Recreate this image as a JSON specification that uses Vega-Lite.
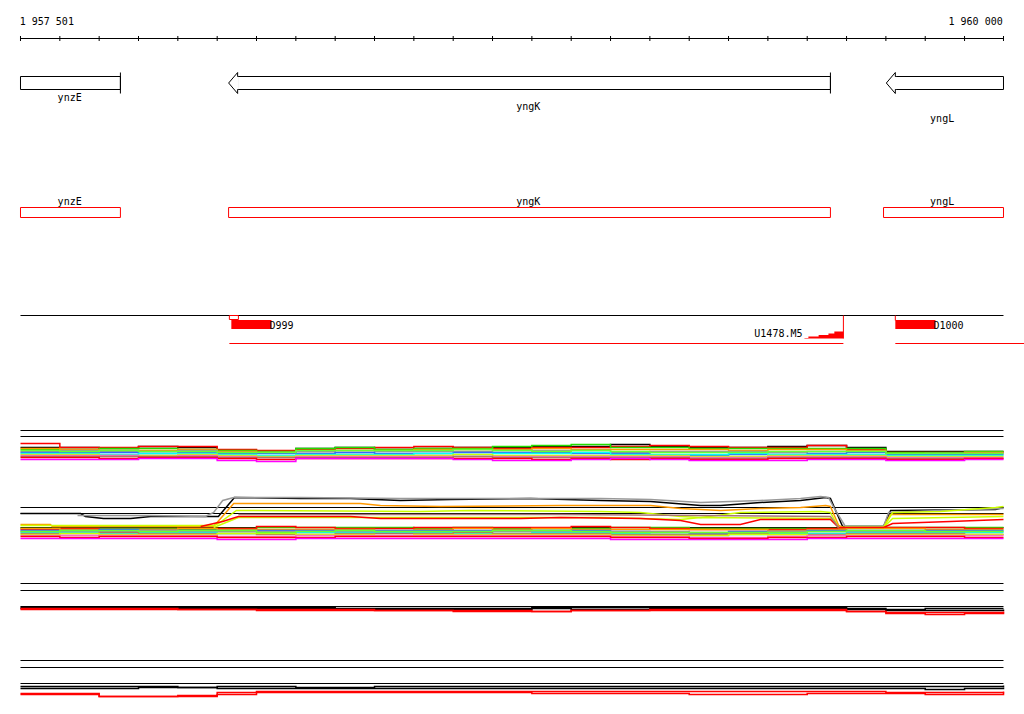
{
  "$schema": "https://vega.github.io/schema/vega-lite/v6.json",
  "width": 1024,
  "height": 714,
  "autosize": {"type": "none"},
  "padding": 0,
  "background": "white",
  "config": {"view": {"stroke": null}},
  "datasets": {
    "hlines": [
      {"p":1957501,"p2":1960000,"y":38,"y2":38},
      {"p":1957501,"p2":1960000,"y":315,"y2":315},
      {"p":1957501,"p2":1960000,"y":430,"y2":430},
      {"p":1957501,"p2":1960000,"y":436,"y2":436},
      {"p":1957501,"p2":1960000,"y":507,"y2":507},
      {"p":1957501,"p2":1960000,"y":513,"y2":513},
      {"p":1957501,"p2":1960000,"y":527,"y2":527},
      {"p":1957501,"p2":1960000,"y":583,"y2":583},
      {"p":1957501,"p2":1960000,"y":590,"y2":590},
      {"p":1957501,"p2":1960000,"y":606,"y2":606},
      {"p":1957501,"p2":1960000,"y":660,"y2":660},
      {"p":1957501,"p2":1960000,"y":667,"y2":667},
      {"p":1957501,"p2":1960000,"y":683,"y2":683}
    ],
    "redlines": [
      {"p":1958032,"p2":1959593,"y":343,"y2":343},
      {"p":1959725,"p2":1960053,"y":343,"y2":343},
      {"p":1959593,"p2":1959593,"y":315,"y2":338},
      {"p":1959725,"p2":1959725,"y":315,"y2":320}
    ],
    "ticks": [
      {"p":1957501},{"p":1957601},{"p":1957701},{"p":1957801},{"p":1957901},{"p":1958001},{"p":1958101},{"p":1958201},{"p":1958301},{"p":1958401},{"p":1958501},{"p":1958601},{"p":1958701},{"p":1958801},{"p":1958901},{"p":1959001},{"p":1959101},{"p":1959201},{"p":1959301},{"p":1959401},{"p":1959501},{"p":1959601},{"p":1959701},{"p":1959801},{"p":1959901},{"p":1960000}
    ],
    "genebody": [
      {"gene":"ynzE","p":1957501,"p2":1957755,"y":76,"y2":89},
      {"gene":"yngK","p":1958053,"p2":1959560,"y":76,"y2":89},
      {"gene":"yngL","p":1959725,"p2":1960000,"y":76,"y2":89}
    ],
    "bars": [{"p":1957755},{"p":1959560}],
    "heads": [{"gene":"yngK","p":1958053},{"gene":"yngL","p":1959725}],
    "redbox": [
      {"p":1957501,"p2":1957755,"y":207,"y2":217},
      {"p":1958030,"p2":1959560,"y":207,"y2":217},
      {"p":1959695,"p2":1960000,"y":207,"y2":217},
      {"p":1958032,"p2":1958055,"y":315,"y2":319}
    ],
    "redfill": [
      {"p":1958037,"p2":1958139,"y":319.5,"y2":328.5},
      {"p":1959725,"p2":1959827,"y":319.5,"y2":328.5}
    ],
    "stair": [
      {"p":1959494,"v":337.5},{"p":1959504,"v":336},{"p":1959530,"v":334.5},{"p":1959555,"v":333},{"p":1959570,"v":331},{"p":1959593,"v":331}
    ],
    "labc": [
      {"p":1957626,"y":100,"label":"ynzE"},
      {"p":1958792,"y":109,"label":"yngK"},
      {"p":1959844,"y":121,"label":"yngL"},
      {"p":1957626,"y":204,"label":"ynzE"},
      {"p":1958792,"y":204,"label":"yngK"},
      {"p":1959844,"y":204,"label":"yngL"}
    ],
    "labl": [
      {"p":1957499,"y":24,"label":"1 957 501"},
      {"p":1958134,"y":328,"label":"D999"},
      {"p":1959822,"y":328,"label":"D1000"}
    ],
    "labr": [
      {"p":1959998,"y":24,"label":"1 960 000"},
      {"p":1959489,"y":336,"label":"U1478.M5"}
    ],
    "expr": [
      {"p":1957501,"a1":447,"a2":443,"a3":449,"a4":448,"a5":451,"a6":452,"a7":453,"a8":454,"a9":455,"a10":456,"a11":457,"a12":459,"a13":450,"b1":528,"b2":529,"b3":528,"b4":530,"b5":531,"b6":532,"b7":533,"b8":534,"b9":535,"b10":536,"b11":538,"b12":531,"c1":607,"c2":608,"c3":608,"c4":609,"d1":686,"d2":688,"d3":693,"d4":694},
      {"p":1957601,"a1":447,"a2":447,"a3":449,"a4":449,"a5":450,"a6":452,"a7":453,"a8":454,"a9":455,"a10":456,"a11":457,"a12":459,"a13":451,"b1":528,"b2":528,"b3":529,"b4":530,"b5":531,"b6":532,"b7":533,"b8":533,"b9":535,"b10":537,"b11":538,"b12":530,"c1":607,"c2":608,"c3":608,"c4":609,"d1":686,"d2":688,"d3":693,"d4":694},
      {"p":1957701,"a1":448,"a2":447,"a3":448,"a4":450,"a5":451,"a6":452,"a7":454,"a8":455,"a9":455,"a10":456,"a11":458,"a12":459,"a13":450,"b1":528,"b2":529,"b3":529,"b4":529,"b5":531,"b6":533,"b7":532,"b8":534,"b9":535,"b10":536,"b11":538,"b12":530,"c1":607,"c2":608,"c3":608,"c4":609,"d1":686,"d2":688,"d3":696,"d4":696},
      {"p":1957801,"a1":446,"a2":446,"a3":448,"a4":450,"a5":451,"a6":453,"a7":453,"a8":455,"a9":456,"a10":456,"a11":457,"a12":458,"a13":451,"b1":528,"b2":529,"b3":529,"b4":530,"b5":530,"b6":532,"b7":533,"b8":534,"b9":535,"b10":536,"b11":538,"b12":531,"c1":607,"c2":608,"c3":608,"c4":609,"d1":686,"d2":687,"d3":696,"d4":696},
      {"p":1957901,"a1":447,"a2":446,"a3":449,"a4":449,"a5":450,"a6":452,"a7":453,"a8":454,"a9":455,"a10":456,"a11":457,"a12":458,"a13":451,"b1":529,"b2":528,"b3":528,"b4":530,"b5":531,"b6":532,"b7":533,"b8":534,"b9":535,"b10":536,"b11":538,"b12":530,"c1":607,"c2":608,"c3":609,"c4":609,"d1":687,"d2":687,"d3":695,"d4":696},
      {"p":1958001,"a1":450,"a2":449,"a3":450,"a4":451,"a5":452,"a6":453,"a7":454,"a8":455,"a9":456,"a10":457,"a11":458,"a12":460,"a13":452,"b1":528,"b2":528,"b3":529,"b4":530,"b5":531,"b6":533,"b7":533,"b8":533,"b9":536,"b10":537,"b11":539,"b12":530,"c1":607,"c2":608,"c3":609,"c4":609,"d1":686,"d2":688,"d3":692,"d4":694},
      {"p":1958101,"a1":451,"a2":450,"a3":451,"a4":452,"a5":452,"a6":453,"a7":455,"a8":456,"a9":457,"a10":457,"a11":459,"a12":461,"a13":452,"b1":527,"b2":526,"b3":529,"b4":530,"b5":531,"b6":533,"b7":534,"b8":533,"b9":536,"b10":537,"b11":539,"b12":532,"c1":607,"c2":608,"c3":609,"c4":610,"d1":686,"d2":688,"d3":691,"d4":692},
      {"p":1958201,"a1":448,"a2":449,"a3":448,"a4":451,"a5":451,"a6":453,"a7":454,"a8":455,"a9":456,"a10":457,"a11":458,"a12":458,"a13":450,"b1":527,"b2":527,"b3":529,"b4":530,"b5":531,"b6":532,"b7":534,"b8":534,"b9":535,"b10":537,"b11":538,"b12":531,"c1":607,"c2":608,"c3":609,"c4":610,"d1":687,"d2":688,"d3":691,"d4":692},
      {"p":1958301,"a1":447,"a2":448,"a3":447,"a4":450,"a5":452,"a6":452,"a7":454,"a8":455,"a9":456,"a10":457,"a11":458,"a12":458,"a13":450,"b1":527,"b2":528,"b3":529,"b4":530,"b5":531,"b6":532,"b7":533,"b8":534,"b9":535,"b10":536,"b11":538,"b12":530,"c1":608,"c2":609,"c3":609,"c4":610,"d1":687,"d2":688,"d3":691,"d4":692},
      {"p":1958401,"a1":449,"a2":447,"a3":449,"a4":450,"a5":451,"a6":453,"a7":454,"a8":455,"a9":456,"a10":457,"a11":458,"a12":458,"a13":450,"b1":527,"b2":528,"b3":530,"b4":530,"b5":531,"b6":532,"b7":533,"b8":535,"b9":535,"b10":536,"b11":538,"b12":531,"c1":608,"c2":609,"c3":610,"c4":610,"d1":686,"d2":688,"d3":691,"d4":692},
      {"p":1958501,"a1":448,"a2":446,"a3":448,"a4":449,"a5":451,"a6":453,"a7":453,"a8":455,"a9":456,"a10":457,"a11":458,"a12":458,"a13":450,"b1":528,"b2":527,"b3":529,"b4":530,"b5":531,"b6":532,"b7":533,"b8":534,"b9":535,"b10":536,"b11":538,"b12":531,"c1":608,"c2":609,"c3":610,"c4":610,"d1":686,"d2":688,"d3":691,"d4":692},
      {"p":1958601,"a1":447,"a2":447,"a3":448,"a4":449,"a5":451,"a6":452,"a7":454,"a8":454,"a9":456,"a10":456,"a11":458,"a12":459,"a13":449,"b1":527,"b2":527,"b3":528,"b4":530,"b5":531,"b6":533,"b7":532,"b8":534,"b9":535,"b10":536,"b11":538,"b12":531,"c1":608,"c2":609,"c3":610,"c4":611,"d1":686,"d2":688,"d3":691,"d4":692},
      {"p":1958701,"a1":447,"a2":448,"a3":446,"a4":449,"a5":450,"a6":452,"a7":453,"a8":455,"a9":456,"a10":457,"a11":458,"a12":460,"a13":450,"b1":528,"b2":527,"b3":529,"b4":530,"b5":531,"b6":533,"b7":533,"b8":534,"b9":535,"b10":536,"b11":538,"b12":530,"c1":608,"c2":609,"c3":610,"c4":611,"d1":686,"d2":688,"d3":691,"d4":692},
      {"p":1958801,"a1":446,"a2":447,"a3":445,"a4":448,"a5":450,"a6":452,"a7":453,"a8":455,"a9":456,"a10":457,"a11":459,"a12":460,"a13":451,"b1":528,"b2":527,"b3":528,"b4":530,"b5":531,"b6":532,"b7":533,"b8":534,"b9":535,"b10":536,"b11":538,"b12":530,"c1":607,"c2":608,"c3":611,"c4":611,"d1":686,"d2":688,"d3":691,"d4":693},
      {"p":1958901,"a1":446,"a2":447,"a3":444,"a4":449,"a5":450,"a6":453,"a7":452,"a8":455,"a9":456,"a10":457,"a11":458,"a12":459,"a13":450,"b1":528,"b2":526,"b3":529,"b4":530,"b5":531,"b6":532,"b7":533,"b8":534,"b9":535,"b10":536,"b11":538,"b12":531,"c1":607,"c2":609,"c3":610,"c4":610,"d1":686,"d2":688,"d3":691,"d4":693},
      {"p":1959001,"a1":444,"a2":446,"a3":447,"a4":449,"a5":452,"a6":453,"a7":454,"a8":455,"a9":456,"a10":457,"a11":459,"a12":458,"a13":451,"b1":527,"b2":527,"b3":529,"b4":531,"b5":531,"b6":533,"b7":534,"b8":535,"b9":536,"b10":537,"b11":539,"b12":532,"c1":607,"c2":609,"c3":610,"c4":610,"d1":686,"d2":688,"d3":691,"d4":693},
      {"p":1959101,"a1":446,"a2":445,"a3":447,"a4":449,"a5":451,"a6":455,"a7":454,"a8":455,"a9":456,"a10":457,"a11":458,"a12":459,"a13":452,"b1":527,"b2":528,"b3":529,"b4":532,"b5":531,"b6":534,"b7":534,"b8":535,"b9":536,"b10":537,"b11":539,"b12":532,"c1":607,"c2":608,"c3":609,"c4":610,"d1":686,"d2":688,"d3":691,"d4":693},
      {"p":1959201,"a1":447,"a2":446,"a3":448,"a4":449,"a5":451,"a6":455,"a7":454,"a8":456,"a9":457,"a10":458,"a11":459,"a12":460,"a13":452,"b1":528,"b2":529,"b3":529,"b4":533,"b5":532,"b6":535,"b7":534,"b8":535,"b9":537,"b10":538,"b11":539,"b12":532,"c1":607,"c2":608,"c3":609,"c4":610,"d1":686,"d2":688,"d3":691,"d4":694},
      {"p":1959301,"a1":447,"a2":447,"a3":448,"a4":450,"a5":451,"a6":454,"a7":453,"a8":456,"a9":457,"a10":458,"a11":459,"a12":460,"a13":452,"b1":528,"b2":529,"b3":529,"b4":531,"b5":532,"b6":534,"b7":533,"b8":534,"b9":537,"b10":538,"b11":539,"b12":532,"c1":607,"c2":608,"c3":609,"c4":610,"d1":686,"d2":688,"d3":691,"d4":694},
      {"p":1959401,"a1":446,"a2":447,"a3":448,"a4":449,"a5":452,"a6":454,"a7":454,"a8":455,"a9":456,"a10":457,"a11":458,"a12":460,"a13":451,"b1":528,"b2":529,"b3":530,"b4":531,"b5":531,"b6":533,"b7":534,"b8":534,"b9":536,"b10":537,"b11":539,"b12":532,"c1":607,"c2":608,"c3":609,"c4":610,"d1":686,"d2":688,"d3":691,"d4":694},
      {"p":1959501,"a1":445,"a2":445,"a3":448,"a4":449,"a5":451,"a6":453,"a7":454,"a8":455,"a9":456,"a10":457,"a11":458,"a12":459,"a13":451,"b1":528,"b2":528,"b3":529,"b4":530,"b5":531,"b6":533,"b7":534,"b8":535,"b9":535,"b10":537,"b11":538,"b12":531,"c1":607,"c2":608,"c3":609,"c4":610,"d1":686,"d2":688,"d3":691,"d4":693},
      {"p":1959601,"a1":447,"a2":449,"a3":448,"a4":450,"a5":451,"a6":452,"a7":454,"a8":455,"a9":456,"a10":457,"a11":458,"a12":459,"a13":451,"b1":526,"b2":527,"b3":528,"b4":530,"b5":531,"b6":532,"b7":533,"b8":534,"b9":535,"b10":536,"b11":538,"b12":530,"c1":608,"c2":609,"c3":611,"c4":611,"d1":686,"d2":688,"d3":691,"d4":693},
      {"p":1959701,"a1":451,"a2":452,"a3":452,"a4":453,"a5":454,"a6":454,"a7":455,"a8":456,"a9":457,"a10":458,"a11":459,"a12":460,"a13":453,"b1":527,"b2":527,"b3":528,"b4":530,"b5":531,"b6":532,"b7":533,"b8":534,"b9":535,"b10":536,"b11":538,"b12":530,"c1":609,"c2":610,"c3":612,"c4":613,"d1":686,"d2":688,"d3":692,"d4":693},
      {"p":1959801,"a1":451,"a2":452,"a3":452,"a4":453,"a5":453,"a6":454,"a7":455,"a8":456,"a9":457,"a10":458,"a11":459,"a12":460,"a13":453,"b1":527,"b2":527,"b3":529,"b4":530,"b5":531,"b6":532,"b7":533,"b8":534,"b9":535,"b10":536,"b11":538,"b12":531,"c1":608,"c2":610,"c3":612,"c4":614,"d1":686,"d2":689,"d3":692,"d4":694},
      {"p":1959901,"a1":451,"a2":452,"a3":451,"a4":452,"a5":453,"a6":454,"a7":455,"a8":456,"a9":457,"a10":458,"a11":458,"a12":459,"a13":453,"b1":527,"b2":528,"b3":529,"b4":530,"b5":531,"b6":532,"b7":534,"b8":534,"b9":535,"b10":537,"b11":538,"b12":531,"c1":608,"c2":610,"c3":612,"c4":613,"d1":686,"d2":688,"d3":692,"d4":694},
      {"p":1960000,"a1":451,"a2":452,"a3":451,"a4":452,"a5":453,"a6":454,"a7":455,"a8":456,"a9":457,"a10":458,"a11":458,"a12":459,"a13":453,"b1":527,"b2":528,"b3":529,"b4":530,"b5":531,"b6":532,"b7":534,"b8":534,"b9":535,"b10":537,"b11":538,"b12":531,"c1":608,"c2":609,"c3":611,"c4":612,"d1":685,"d2":687,"d3":691,"d4":692}
    ],
    "hi": [
      {"s":"h1","p":1957501,"v":513},{"s":"h1","p":1957654,"v":513},{"s":"h1","p":1957666,"v":516},{"s":"h1","p":1957712,"v":518},{"s":"h1","p":1957781,"v":518},{"s":"h1","p":1957832,"v":516},{"s":"h1","p":1958004,"v":516},{"s":"h1","p":1958045,"v":497},{"s":"h1","p":1958213,"v":498},{"s":"h1","p":1958340,"v":498},{"s":"h1","p":1958467,"v":500},{"s":"h1","p":1958594,"v":499},{"s":"h1","p":1958798,"v":498},{"s":"h1","p":1958976,"v":500},{"s":"h1","p":1959103,"v":501},{"s":"h1","p":1959230,"v":505},{"s":"h1","p":1959281,"v":505},{"s":"h1","p":1959382,"v":502},{"s":"h1","p":1959484,"v":500},{"s":"h1","p":1959548,"v":497},{"s":"h1","p":1959560,"v":498},{"s":"h1","p":1959591,"v":526},{"s":"h1","p":1959695,"v":526},{"s":"h1","p":1959713,"v":510},{"s":"h1","p":1959980,"v":509},{"s":"h1","p":1960000,"v":507},
      {"s":"h2","p":1957646,"v":515},{"s":"h2","p":1957712,"v":515},{"s":"h2","p":1957832,"v":515},{"s":"h2","p":1957971,"v":516},{"s":"h2","p":1957992,"v":512},{"s":"h2","p":1958015,"v":500},{"s":"h2","p":1958043,"v":497},{"s":"h2","p":1958213,"v":497},{"s":"h2","p":1958467,"v":498},{"s":"h2","p":1958670,"v":498},{"s":"h2","p":1958874,"v":498},{"s":"h2","p":1958976,"v":498},{"s":"h2","p":1959103,"v":499},{"s":"h2","p":1959230,"v":502},{"s":"h2","p":1959382,"v":500},{"s":"h2","p":1959484,"v":498},{"s":"h2","p":1959535,"v":496},{"s":"h2","p":1959555,"v":497},{"s":"h2","p":1959570,"v":508},{"s":"h2","p":1959598,"v":526},{"s":"h2","p":1959695,"v":526},{"s":"h2","p":1959708,"v":512},{"s":"h2","p":1959840,"v":510},{"s":"h2","p":1960000,"v":508},
      {"s":"h3","p":1957501,"v":524},{"s":"h3","p":1957577,"v":524},{"s":"h3","p":1957582,"v":526},{"s":"h3","p":1957992,"v":526},{"s":"h3","p":1958043,"v":503},{"s":"h3","p":1958365,"v":503},{"s":"h3","p":1958416,"v":505},{"s":"h3","p":1958569,"v":506},{"s":"h3","p":1958874,"v":505},{"s":"h3","p":1959103,"v":505},{"s":"h3","p":1959179,"v":508},{"s":"h3","p":1959281,"v":510},{"s":"h3","p":1959382,"v":508},{"s":"h3","p":1959484,"v":507},{"s":"h3","p":1959548,"v":505},{"s":"h3","p":1959560,"v":506},{"s":"h3","p":1959581,"v":525},{"s":"h3","p":1959593,"v":527},{"s":"h3","p":1959695,"v":527},{"s":"h3","p":1959713,"v":514},{"s":"h3","p":1960000,"v":514},
      {"s":"h4","p":1957501,"v":525},{"s":"h4","p":1957992,"v":525},{"s":"h4","p":1958004,"v":523},{"s":"h4","p":1958050,"v":510},{"s":"h4","p":1958518,"v":511},{"s":"h4","p":1958645,"v":510},{"s":"h4","p":1958976,"v":511},{"s":"h4","p":1959077,"v":512},{"s":"h4","p":1959179,"v":516},{"s":"h4","p":1959230,"v":517},{"s":"h4","p":1959331,"v":512},{"s":"h4","p":1959535,"v":511},{"s":"h4","p":1959560,"v":512},{"s":"h4","p":1959581,"v":527},{"s":"h4","p":1959695,"v":527},{"s":"h4","p":1959718,"v":512},{"s":"h4","p":1959840,"v":511},{"s":"h4","p":1959980,"v":507},{"s":"h4","p":1960000,"v":506},
      {"s":"h5","p":1957992,"v":527},{"s":"h5","p":1958055,"v":517},{"s":"h5","p":1958976,"v":517},{"s":"h5","p":1959179,"v":519},{"s":"h5","p":1959230,"v":517},{"s":"h5","p":1959560,"v":518},{"s":"h5","p":1959581,"v":527},{"s":"h5","p":1959695,"v":527},{"s":"h5","p":1959718,"v":518},{"s":"h5","p":1960000,"v":516},
      {"s":"h6","p":1957959,"v":526},{"s":"h6","p":1958015,"v":521},{"s":"h6","p":1958055,"v":516},{"s":"h6","p":1958340,"v":516},{"s":"h6","p":1958416,"v":518},{"s":"h6","p":1958772,"v":518},{"s":"h6","p":1958874,"v":517},{"s":"h6","p":1959077,"v":518},{"s":"h6","p":1959179,"v":520},{"s":"h6","p":1959230,"v":524},{"s":"h6","p":1959331,"v":524},{"s":"h6","p":1959382,"v":519},{"s":"h6","p":1959484,"v":519},{"s":"h6","p":1959560,"v":519},{"s":"h6","p":1959581,"v":527},{"s":"h6","p":1959695,"v":527},{"s":"h6","p":1959718,"v":523},{"s":"h6","p":1959865,"v":521},{"s":"h6","p":1960000,"v":519},
      {"s":"h7","p":1958055,"v":514},{"s":"h7","p":1958518,"v":514},{"s":"h7","p":1958874,"v":514},{"s":"h7","p":1959230,"v":515},{"s":"h7","p":1959560,"v":516},{"s":"h7","p":1959581,"v":527}
    ]
  },
  "layer": [
    {
      "data": {"name": "hlines"},
      "mark": {"type": "rule", "color": "black", "strokeWidth": 1},
      "encoding": {
        "x": {"field": "p", "type": "quantitative", "scale": {"domain": [1957448.885, 1960052.116], "nice": false, "zero": false}, "axis": null},
        "x2": {"field": "p2"},
        "y": {"field": "y", "type": "quantitative", "scale": {"domain": [713.5, -0.5], "nice": false, "zero": false}, "axis": null},
        "y2": {"field": "y2"}
      }
    },
    {
      "data": {"name": "ticks"},
      "mark": {"type": "rule", "color": "black", "strokeWidth": 1},
      "encoding": {
        "x": {"field": "p", "type": "quantitative", "scale": {"domain": [1957448.885, 1960052.116], "nice": false, "zero": false}, "axis": null},
        "y": {"datum": 35.5, "type": "quantitative", "scale": {"domain": [713.5, -0.5], "nice": false, "zero": false}, "axis": null},
        "y2": {"datum": 40.5}
      }
    },
    {
      "data": {"name": "expr"},
      "transform": [{"fold": ["a1","a2","a3","a4","a5","a6","a7","a8","a9","a10","a11","a12","a13","b1","b2","b3","b4","b5","b6","b7","b8","b9","b10","b11","b12","c1","c2","c3","c4","d1","d2","d3","d4"], "as": ["s", "v"]}],
      "mark": {"type": "line", "interpolate": "step-after", "strokeWidth": 1.5},
      "encoding": {
        "x": {"field": "p", "type": "quantitative", "scale": {"domain": [1957448.885, 1960052.116], "nice": false, "zero": false}, "axis": null},
        "y": {"field": "v", "type": "quantitative", "scale": {"domain": [713.5, -0.5], "nice": false, "zero": false}, "axis": null},
        "color": {"field": "s", "type": "nominal", "legend": null,
          "scale": {
            "domain": ["a1","a2","a3","a4","a5","a6","a7","a8","a9","a10","a11","a12","a13","b1","b2","b3","b4","b5","b6","b7","b8","b9","b10","b11","b12","c1","c2","c3","c4","d1","d2","d3","d4","h1","h2","h3","h4","h5","h6","h7"],
            "range": ["#000000","#ff0000","#22dd00","#ff9900","#999999","#3366ff","#00ffff","#ccff00","#ff66cc","#aa7766","#ff0000","#ff00ff","#66ff33","#22dd00","#ff0000","#ff9900","#3366ff","#999999","#00ffff","#aa7766","#ccff00","#ff66cc","#ff0000","#ff00ff","#66ff33","#000000","#000000","#ff0000","#ff0000","#000000","#000000","#ff0000","#ff0000","#000000","#999999","#ff9900","#ccff00","#ccff00","#ff0000","#aa7777"]
          }
        }
      }
    },
    {
      "data": {"name": "hi"},
      "mark": {"type": "line", "interpolate": "linear", "strokeWidth": 1.5},
      "encoding": {
        "x": {"field": "p", "type": "quantitative", "scale": {"domain": [1957448.885, 1960052.116], "nice": false, "zero": false}, "axis": null},
        "y": {"field": "v", "type": "quantitative", "scale": {"domain": [713.5, -0.5], "nice": false, "zero": false}, "axis": null},
        "color": {"field": "s", "type": "nominal", "legend": null,
          "scale": {
            "domain": ["a1","a2","a3","a4","a5","a6","a7","a8","a9","a10","a11","a12","a13","b1","b2","b3","b4","b5","b6","b7","b8","b9","b10","b11","b12","c1","c2","c3","c4","d1","d2","d3","d4","h1","h2","h3","h4","h5","h6","h7"],
            "range": ["#000000","#ff0000","#22dd00","#ff9900","#999999","#3366ff","#00ffff","#ccff00","#ff66cc","#aa7766","#ff0000","#ff00ff","#66ff33","#22dd00","#ff0000","#ff9900","#3366ff","#999999","#00ffff","#aa7766","#ccff00","#ff66cc","#ff0000","#ff00ff","#66ff33","#000000","#000000","#ff0000","#ff0000","#000000","#000000","#ff0000","#ff0000","#000000","#999999","#ff9900","#ccff00","#ccff00","#ff0000","#aa7777"]
          }
        }
      }
    },
    {
      "data": {"name": "genebody"},
      "mark": {"type": "rect", "fill": "white", "stroke": "black", "strokeWidth": 1},
      "encoding": {
        "x": {"field": "p", "type": "quantitative", "scale": {"domain": [1957448.885, 1960052.116], "nice": false, "zero": false}, "axis": null},
        "x2": {"field": "p2"},
        "y": {"field": "y", "type": "quantitative", "scale": {"domain": [713.5, -0.5], "nice": false, "zero": false}, "axis": null},
        "y2": {"field": "y2"}
      }
    },
    {
      "data": {"name": "bars"},
      "mark": {"type": "rule", "color": "black", "strokeWidth": 1},
      "encoding": {
        "x": {"field": "p", "type": "quantitative", "scale": {"domain": [1957448.885, 1960052.116], "nice": false, "zero": false}, "axis": null},
        "y": {"datum": 72, "type": "quantitative", "scale": {"domain": [713.5, -0.5], "nice": false, "zero": false}, "axis": null},
        "y2": {"datum": 93}
      }
    },
    {
      "data": {"name": "heads"},
      "mark": {"type": "point", "shape": "M0.1,-0.62L0,-0.62L0,-1L-0.857,0L0,1L0,0.62L0.1,0.62", "size": 441, "filled": true, "fill": "white", "stroke": "black", "strokeWidth": 1, "opacity": 1},
      "encoding": {
        "x": {"field": "p", "type": "quantitative", "scale": {"domain": [1957448.885, 1960052.116], "nice": false, "zero": false}, "axis": null},
        "y": {"datum": 82.5, "type": "quantitative", "scale": {"domain": [713.5, -0.5], "nice": false, "zero": false}, "axis": null}
      }
    },
    {
      "data": {"name": "redbox"},
      "mark": {"type": "rect", "filled": false, "fill": null, "stroke": "#ff0000", "strokeWidth": 1},
      "encoding": {
        "x": {"field": "p", "type": "quantitative", "scale": {"domain": [1957448.885, 1960052.116], "nice": false, "zero": false}, "axis": null},
        "x2": {"field": "p2"},
        "y": {"field": "y", "type": "quantitative", "scale": {"domain": [713.5, -0.5], "nice": false, "zero": false}, "axis": null},
        "y2": {"field": "y2"}
      }
    },
    {
      "data": {"name": "redfill"},
      "mark": {"type": "rect", "fill": "#ff0000", "stroke": null},
      "encoding": {
        "x": {"field": "p", "type": "quantitative", "scale": {"domain": [1957448.885, 1960052.116], "nice": false, "zero": false}, "axis": null},
        "x2": {"field": "p2"},
        "y": {"field": "y", "type": "quantitative", "scale": {"domain": [713.5, -0.5], "nice": false, "zero": false}, "axis": null},
        "y2": {"field": "y2"}
      }
    },
    {
      "data": {"name": "redlines"},
      "mark": {"type": "rule", "color": "#ff0000", "strokeWidth": 1},
      "encoding": {
        "x": {"field": "p", "type": "quantitative", "scale": {"domain": [1957448.885, 1960052.116], "nice": false, "zero": false}, "axis": null},
        "x2": {"field": "p2"},
        "y": {"field": "y", "type": "quantitative", "scale": {"domain": [713.5, -0.5], "nice": false, "zero": false}, "axis": null},
        "y2": {"field": "y2"}
      }
    },
    {
      "data": {"name": "stair"},
      "mark": {"type": "area", "interpolate": "step-after", "color": "#ff0000"},
      "encoding": {
        "x": {"field": "p", "type": "quantitative", "scale": {"domain": [1957448.885, 1960052.116], "nice": false, "zero": false}, "axis": null},
        "y": {"field": "v", "type": "quantitative", "scale": {"domain": [713.5, -0.5], "nice": false, "zero": false}, "axis": null},
        "y2": {"datum": 338}
      }
    },
    {
      "data": {"name": "labc"},
      "mark": {"type": "text", "align": "center", "baseline": "alphabetic", "font": "DejaVu Sans Mono", "fontSize": 10, "color": "black"},
      "encoding": {
        "x": {"field": "p", "type": "quantitative", "scale": {"domain": [1957448.885, 1960052.116], "nice": false, "zero": false}, "axis": null},
        "y": {"field": "y", "type": "quantitative", "scale": {"domain": [713.5, -0.5], "nice": false, "zero": false}, "axis": null},
        "text": {"field": "label"}
      }
    },
    {
      "data": {"name": "labl"},
      "mark": {"type": "text", "align": "left", "baseline": "alphabetic", "font": "DejaVu Sans Mono", "fontSize": 10, "color": "black"},
      "encoding": {
        "x": {"field": "p", "type": "quantitative", "scale": {"domain": [1957448.885, 1960052.116], "nice": false, "zero": false}, "axis": null},
        "y": {"field": "y", "type": "quantitative", "scale": {"domain": [713.5, -0.5], "nice": false, "zero": false}, "axis": null},
        "text": {"field": "label"}
      }
    },
    {
      "data": {"name": "labr"},
      "mark": {"type": "text", "align": "right", "baseline": "alphabetic", "font": "DejaVu Sans Mono", "fontSize": 10, "color": "black"},
      "encoding": {
        "x": {"field": "p", "type": "quantitative", "scale": {"domain": [1957448.885, 1960052.116], "nice": false, "zero": false}, "axis": null},
        "y": {"field": "y", "type": "quantitative", "scale": {"domain": [713.5, -0.5], "nice": false, "zero": false}, "axis": null},
        "text": {"field": "label"}
      }
    }
  ]
}
